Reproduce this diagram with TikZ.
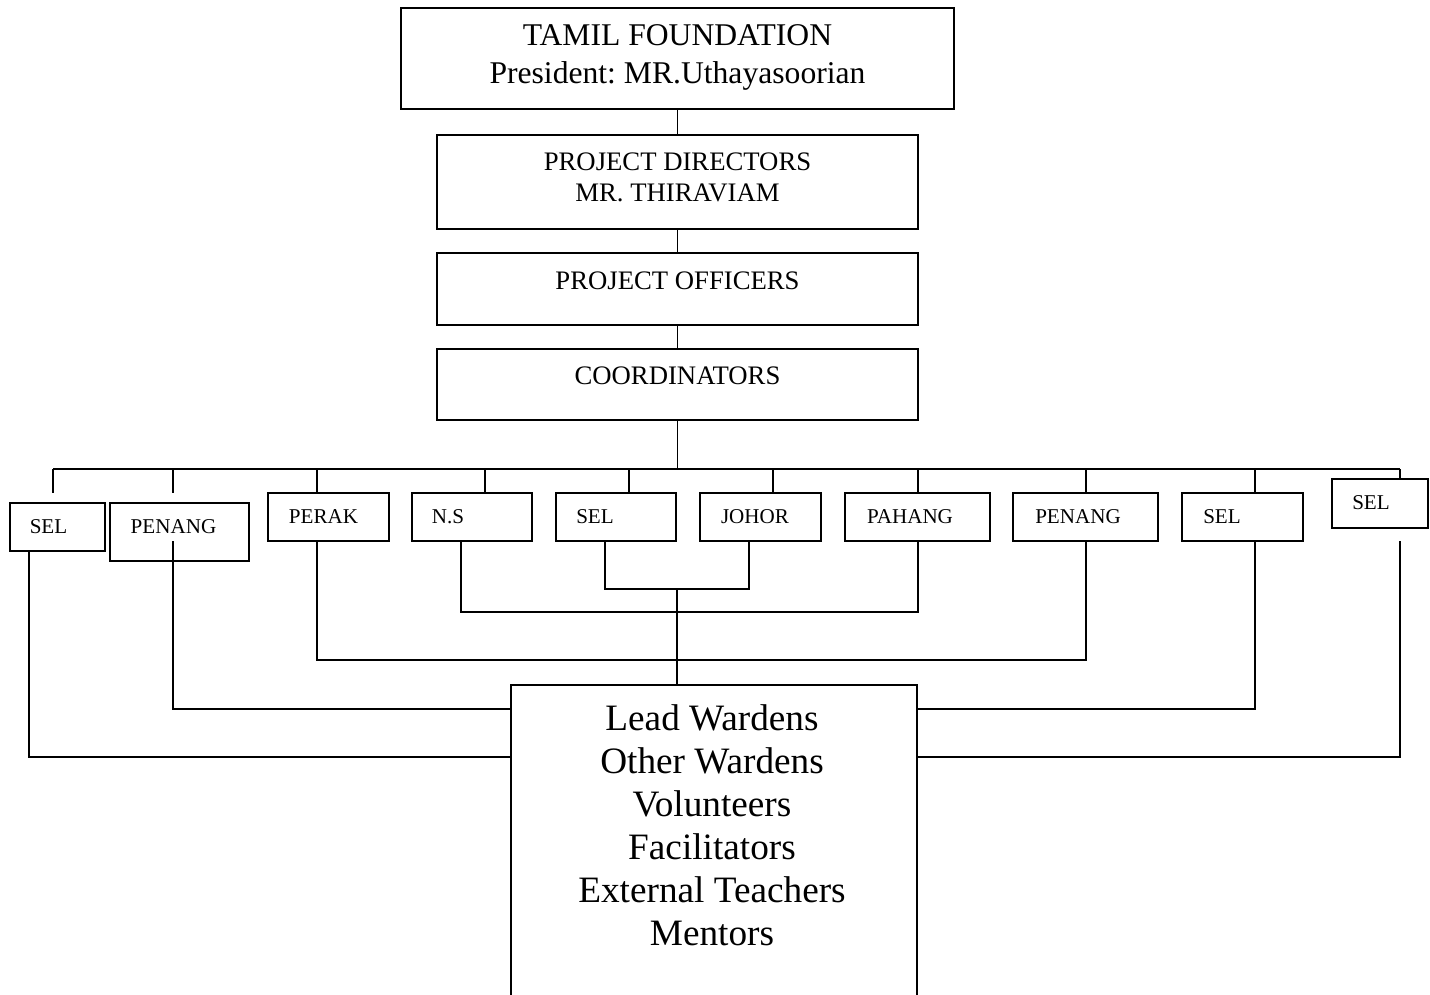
\documentclass[tikz,border=0pt]{standalone}
\usepackage{fontspec}
\setmainfont{Liberation Serif}
\usetikzlibrary{positioning, calc}
\frenchspacing

\tikzset{
  box/.style={draw, line width=1.1pt, inner sep=0pt},
  state/.style={box, minimum height=0.96cm},
  link/.style={line width=1.1pt},
  txt/.style={inner sep=0pt, align=center},
  small/.style={txt, font=\fontsize{12}{14}\selectfont},
  mid/.style={txt, font=\fontsize{15.2}{17.6}\selectfont},
}

\begin{document}
\begin{tikzpicture}[x=0.02cm, y=-0.02cm]
  \useasboundingbox (0,0) rectangle (1430,994);
  \clip (0,0) rectangle (1430,994);

  % the chain at the top
  \node[box, minimum width=11.06cm, minimum height=2.02cm] at (677.5,58.5) (tf) {};
  \node[txt, font=\fontsize{18}{21.6}\selectfont] at (677.5,57) (tftext) {TAMIL FOUNDATION\\President: MR.Uthayasoorian};
  \node[box, minimum width=9.62cm, minimum height=1.88cm] at (677.5,182) (pd) {};
  \node[mid] at (677.5,177) (pdtext) {PROJECT DIRECTORS\\MR. THIRAVIAM};
  \node[box, minimum width=9.62cm, minimum height=1.44cm] at (677.5,289) (po) {};
  \node[mid] at (677.5,281) (potext) {PROJECT OFFICERS};
  \node[box, minimum width=9.62cm, minimum height=1.42cm] at (677.5,384.5) (co) {};
  \node[mid] at (677.5,376) (cotext) {COORDINATORS};
  \draw[link] (tf) -- (pd);
  \draw[link] (pd) -- (po);
  \draw[link] (po) -- (co);

  % the states
  \node[box, minimum width=1.9cm, minimum height=0.96cm] at (57.5,527) (sel1) {};
  \node[small] at (48.5,527) {SEL};
  \node[box, minimum width=2.78cm, minimum height=1.16cm] at (179.5,532) (pen1) {};
  \node[small] at (173.5,527) {PENANG};
  \node[state, minimum width=2.42cm] at (328.5,517) (perak) {};
  \node[small] at (323.5,517) {PERAK};
  \node[state, minimum width=2.4cm] at (472,517) (ns) {};
  \node[small] at (448,517) {N.S};
  \node[state, minimum width=2.4cm] at (616,517) (sel2) {};
  \node[small] at (595,517) {SEL};
  \node[state, minimum width=2.42cm] at (760.5,517) (johor) {};
  \node[small] at (755,517) {JOHOR};
  \node[state, minimum width=2.9cm] at (917.5,517) (pahang) {};
  \node[small] at (910,517) {PAHANG};
  \node[state, minimum width=2.9cm] at (1085.5,517) (pen2) {};
  \node[small] at (1078,517) {PENANG};
  \node[state, minimum width=2.42cm] at (1242.5,517) (sel3) {};
  \node[small] at (1222,517) {SEL};
  \node[box, minimum width=1.92cm, minimum height=0.98cm] at (1380,503.5) (sel4) {};
  \node[small] at (1371,503) {SEL};

  % bus under the coordinators
  \coordinate (busL) at (53,469);
  \coordinate (busR) at (1400,469);
  \draw[link] (busL) -- (busR);
  \draw[link] (co) -- (co |- busL);
  \coordinate (d1) at (53,469);
  \coordinate (e1) at (53,493);
  \coordinate (d2) at (173,469);
  \coordinate (e2) at (173,493);
  \draw[link] (d1) -- (e1);
  \draw[link] (d2) -- (e2);
  \foreach \x/\n in {317/perak, 485/ns, 629/sel2, 773/johor, 918/pahang, 1086/pen2, 1255/sel3, 1400/sel4}
  {
    \coordinate (d\n) at (\x,469);
    \draw[link] (d\n) -- (d\n |- \n.north);
  }

  % the bottom box
  \node[box, minimum width=8.12cm, minimum height=6.5cm] at (714,847.5) (lead) {};
  \node[txt, font=\fontsize{21.2}{24.5}\selectfont] at (712,825) (leadtext) {Lead Wardens\\Other Wardens\\Volunteers\\Facilitators\\External Teachers\\Mentors};

  % lines from the states down
  \coordinate (f1) at (29,551);
  \coordinate (f2) at (173,541);
  \coordinate (f3) at (317,541);
  \coordinate (f4) at (461,541);
  \coordinate (f5) at (605,541);
  \coordinate (f6) at (749,541);
  \coordinate (f7) at (918,541);
  \coordinate (f8) at (1086,541);
  \coordinate (f9) at (1255,541);
  \coordinate (f10) at (1400,541);
  \coordinate (h1) at (511,757);
  \coordinate (h2) at (511,709);
  \coordinate (h3) at (917,709);
  \coordinate (h4) at (917,757);
  \coordinate (mid) at (677,589);
  \draw[link] (f1) |- (h1);
  \draw[link] (f2) |- (h2);
  \draw[link] (f9) |- (h3);
  \draw[link] (f10) |- (h4);
  \draw[link] (f3) -- ++(0,119) -| (f8);
  \draw[link] (f4) -- ++(0,71) -| (f7);
  \draw[link] (f5) -- ++(0,48) -| (f6);
  \draw[link] (mid) -- (mid |- lead.north);
\end{tikzpicture}
\end{document}
